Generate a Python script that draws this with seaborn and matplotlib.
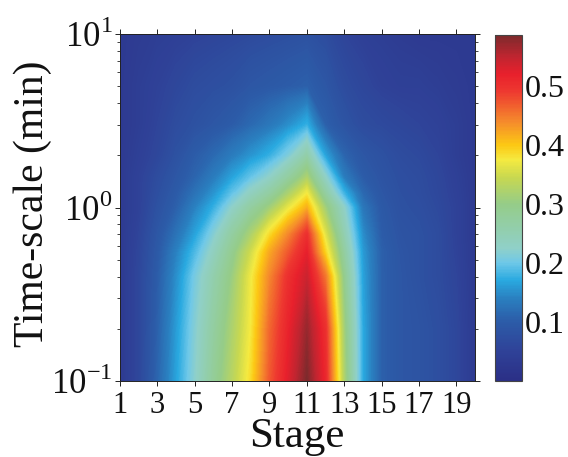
import numpy as np
import matplotlib
matplotlib.use("Agg")
import matplotlib.pyplot as plt
import seaborn as sns
from matplotlib.cm import ScalarMappable
from matplotlib.colors import Normalize
from matplotlib.ticker import FixedLocator, NullFormatter, FixedFormatter

sns.set_theme(style="white")
plt.rcParams['font.family'] = ['Liberation Serif', 'DejaVu Serif']
plt.rcParams['mathtext.fontset'] = 'custom'
plt.rcParams['mathtext.rm'] = 'Liberation Serif'

stages = list(range(1, 21))
timescales = [0.1, 0.2, 0.4, 0.55, 0.7, 1.0, 1.2, 1.5, 2.0, 3.0, 5.0, 10.0]

t_0p10 = [.03, .06, .11, .165, .22, .28, .33, .385, .47, .525, .585, .51, .32, .17, .105, .09, .085, .075, .06, .03]
t_0p20 = [.03, .06, .105, .16, .215, .27, .32, .375, .46, .515, .57, .50, .31, .17, .105, .09, .085, .075, .06, .03]
t_0p40 = [.03, .06, .10, .15, .205, .255, .305, .37, .44, .50, .54, .45, .29, .165, .105, .09, .08, .07, .055, .03]
t_0p55 = [.03, .058, .095, .14, .185, .235, .29, .35, .42, .47, .52, .39, .27, .16, .105, .088, .08, .07, .052, .03]
t_0p70 = [.03, .055, .09, .125, .165, .215, .27, .32, .385, .44, .50, .36, .25, .15, .10, .085, .08, .07, .05, .03]
t_1p00 = [.03, .05, .08, .105, .14, .175, .225, .27, .31, .365, .415, .31, .225, .13, .095, .08, .075, .065, .05, .03]
t_1p20 = [.03, .05, .075, .098, .125, .155, .195, .235, .27, .32, .375, .27, .18, .115, .09, .078, .072, .062, .048, .03]
t_1p50 = [.03, .05, .07, .09, .11, .135, .165, .195, .225, .27, .32, .225, .135, .10, .085, .075, .07, .06, .045, .03]
t_2p00 = [.03, .045, .06, .08, .10, .115, .135, .155, .175, .21, .26, .165, .11, .09, .08, .07, .065, .055, .04, .03]
t_3p00 = [.03, .04, .055, .07, .08, .09, .10, .115, .13, .15, .175, .105, .085, .07, .065, .06, .055, .05, .04, .03]
t_5p00 = [.03, .04, .05, .06, .07, .075, .08, .09, .095, .10, .105, .09, .07, .06, .05, .045, .045, .04, .035, .03]
t_10p0 = [.03, .035, .04, .045, .05, .055, .06, .065, .07, .075, .08, .07, .055, .045, .04, .035, .03, .03, .03, .03]

x_ticks = [1, 3, 5, 7, 9, 11, 13, 15, 17, 19]
y_ticks = [0.1, 1, 10]
y_labels = [r'10$^{\mathrm{-1}}$', r'10$^{\mathrm{0}}$', r'10$^{\mathrm{1}}$']
cbar_ticks = [0.1, 0.2, 0.3, 0.4, 0.5]
cbar_labels = ['0.1', '0.2', '0.3', '0.4', '0.5']

Z = np.array([t_0p10, t_0p20, t_0p40, t_0p55, t_0p70, t_1p00, t_1p20, t_1p50, t_2p00, t_3p00, t_5p00, t_10p0])

W, H = 568, 457
fig = plt.figure(figsize=(W / 100, H / 100), dpi=100, facecolor='white')
ax = fig.add_axes([120 / W, 1 - 381 / H, 355 / W, 347 / H])
cax = fig.add_axes([495 / W, 1 - 381 / H, 27 / W, 346 / H])

# colour ramp
ramp_values = [0.0, 0.05, 0.10, 0.14, 0.17, 0.20, 0.225, 0.30, 0.345, 0.375, 0.40, 0.44, 0.49, 0.52, 0.55, 0.586]
ramp_colors = ['#2b2f86', '#2f4298', '#2c5ca8', '#2a80c0', '#29a9e0', '#6fc8e8', '#90d0c8', '#95cc88',
               '#c8d850', '#f5ea40', '#fcc814', '#f58a2c', '#ee3a30', '#e8202c', '#c02530', '#7d2a2c']
vmin, vmax = ramp_values[0], ramp_values[-1]
seg = [((v - vmin) / (vmax - vmin), c) for v, c in zip(ramp_values, ramp_colors)]
base = sns.blend_palette(ramp_colors, n_colors=3, as_cmap=True)
cmap = base.from_list('stage', seg, N=256)
norm = Normalize(vmin, vmax)

levels = np.linspace(vmin, vmax, 257)
ax.contourf(stages, timescales, Z, levels=levels, cmap=cmap, norm=norm, antialiased=False)
ax.set_yscale('log')
ax.set_xlim(1, 20)
ax.set_ylim(0.1, 10)

tc = '#222222'
ax.xaxis.set_major_locator(FixedLocator(x_ticks))
ax.set_xticklabels([str(v) for v in x_ticks], fontsize=22, color='#111111')
ax.yaxis.set_major_locator(FixedLocator(y_ticks))
ax.yaxis.set_major_formatter(FixedFormatter(y_labels))
ax.yaxis.set_minor_locator(FixedLocator([m * d for d in (0.1, 1) for m in range(2, 10)]))
ax.yaxis.set_minor_formatter(NullFormatter())
ax.tick_params(axis='both', which='major', direction='out', length=3.5, width=0.7, color=tc,
               top=True, right=True, left=True, bottom=True, pad=2)
ax.tick_params(axis='y', which='minor', direction='out', length=2, width=0.6, color=tc,
               left=True, right=True)
ax.tick_params(axis='y', which='major', labelsize=25, labelcolor='#111111', pad=2)
ax.tick_params(axis='x', which='major', pad=4)
for s in ax.spines.values():
    s.set_visible(True)
    s.set_linewidth(0.7)
    s.set_color(tc)

fig.text(297 / W, 1 - 437 / H, 'Stage', ha='center', va='center', fontsize=31, color='#111111')
fig.text(33 / W, 1 - 204 / H, 'Time-scale (min)', ha='center', va='center', rotation=90,
         fontsize=30, color='#111111')

cb = fig.colorbar(ScalarMappable(norm=norm, cmap=cmap), cax=cax)
cb.set_ticks(cbar_ticks)
cb.set_ticklabels(cbar_labels)
cb.ax.tick_params(direction='in', length=2.5, width=0.7, color=tc, labelsize=23, labelcolor='#111111', pad=2, right=True)
cb.outline.set_linewidth(0.8)
cb.outline.set_edgecolor('#444444')

fig.savefig('out.png', dpi=100, facecolor='white')
